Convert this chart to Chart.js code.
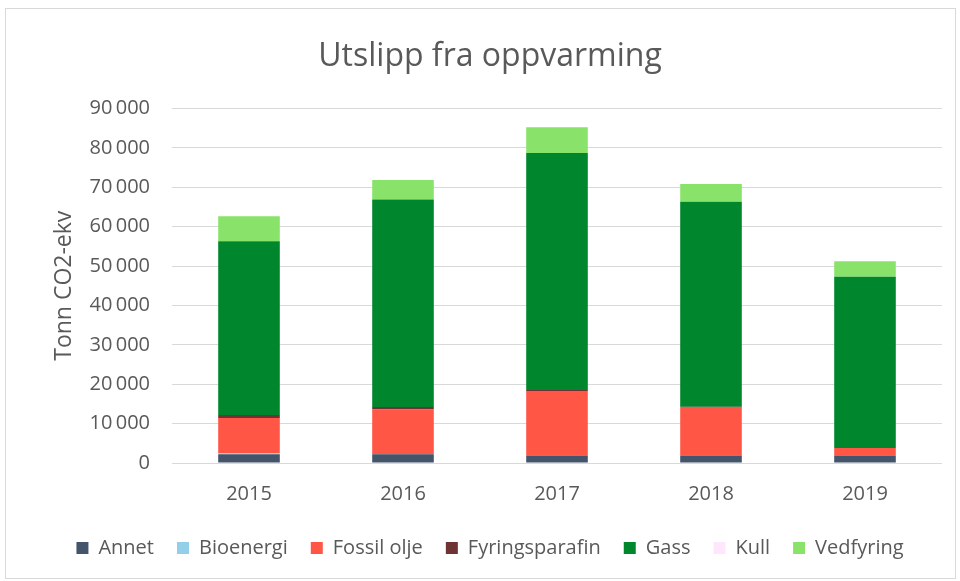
<!DOCTYPE html>
<html>
<head>
<meta charset="utf-8">
<script src="https://cdn.jsdelivr.net/npm/chart.js@4.4.1/dist/chart.umd.min.js"></script>
<style>
  body { margin: 0; background: #fff; }
  #wrap { position: relative; width: 960px; height: 581px; }
  #frame { position: absolute; left: 5px; top: 8px; width: 949px; height: 569px; border: 1px solid #d9d9d9; pointer-events: none; }
</style>
</head>
<body>
<div id="wrap">
  <canvas id="utslippChart"></canvas>
  <div id="frame"></div>
</div>
<script>
const years = ['2015', '2016', '2017', '2018', '2019'];
const annet = [2200, 2200, 1900, 1900, 1900];
const bioenergi = [300, 0, 0, 0, 0];
const fossilOlje = [8900, 11400, 16400, 12300, 1900];
const fyringsparafin = [800, 600, 200, 100, 0];
const gass = [44100, 52700, 60200, 52000, 43500];
const kull = [0, 0, 0, 0, 0];
const vedfyring = [6300, 4900, 6500, 4500, 3900];
const yTicks = [0, 10000, 20000, 30000, 40000, 50000, 60000, 70000, 80000, 90000];

const fontFam = "'Open Sans', 'Liberation Sans', sans-serif";
const grey = '#595959';

function fmt(v) {
    return String(v).replace(/\B(?=(\d{3})+(?!\d))/g, '\u2009');
}

const ctx = document.getElementById('utslippChart').getContext('2d');
const chart = new Chart(ctx, {
    type: 'bar',
    data: {
        labels: years,
        datasets: [
            { label: 'Annet', data: annet, backgroundColor: '#44546a' },
            { label: 'Bioenergi', data: bioenergi, backgroundColor: '#93cfe8' },
            { label: 'Fossil olje', data: fossilOlje, backgroundColor: '#ff5645' },
            { label: 'Fyringsparafin', data: fyringsparafin, backgroundColor: '#6e3332' },
            { label: 'Gass', data: gass, backgroundColor: '#00862c' },
            { label: 'Kull', data: kull, backgroundColor: '#ffe6fa' },
            { label: 'Vedfyring', data: vedfyring, backgroundColor: '#89e36b' }
        ]
    },
    options: {
        responsive: true,
        maintainAspectRatio: false,
        animation: false,
        datasets: {
            bar: { categoryPercentage: 1, barPercentage: 0.4, borderWidth: 0 }
        },
        layout: { padding: { left: 38, right: 18, top: 10, bottom: 13 } },
        plugins: {
            title: {
                display: true,
                text: 'Utslipp fra oppvarming',
                color: grey,
                font: { family: fontFam, size: 32, weight: 'normal' },
                padding: { top: 28, bottom: 32 }
            },
            legend: {
                position: 'bottom',
                labels: {
                    color: grey,
                    font: { family: fontFam, size: 20 },
                    boxWidth: 12,
                    boxHeight: 12,
                    padding: 23
                }
            },
            tooltip: { enabled: false }
        },
        scales: {
            x: {
                stacked: true,
                grid: { display: false },
                border: { display: false },
                ticks: { color: grey, font: { family: fontFam, size: 20 }, padding: 11 },
                afterFit: (scale) => { scale.height -= 2; }
            },
            y: {
                stacked: true,
                min: 0,
                max: 90000,
                afterBuildTicks: (axis) => { axis.ticks = yTicks.map(v => ({ value: v })); },
                afterFit: (scale) => { scale.width = 134; },
                grid: { color: '#d9d9d9', lineWidth: 1, drawTicks: false },
                border: { display: false },
                ticks: {
                    color: grey,
                    font: { family: fontFam, size: 20 },
                    padding: 22,
                    callback: (v) => fmt(v)
                },
                title: {
                    display: true,
                    text: 'Tonn CO2-ekv',
                    color: grey,
                    font: { family: fontFam, size: 23 },
                    padding: { top: 13, bottom: 0 }
                }
            }
        }
    }
});
</script>
</body>
</html>
